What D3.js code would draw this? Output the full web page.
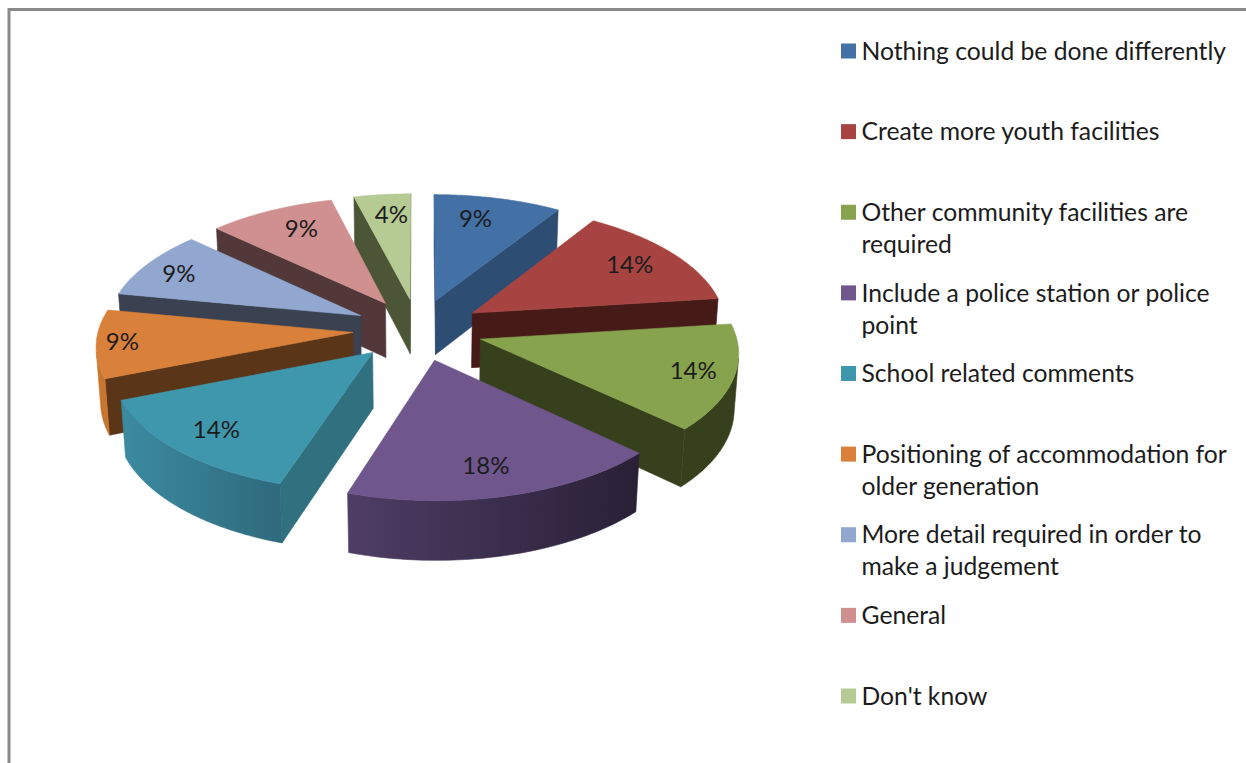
<!DOCTYPE html>
<html>
<head>
<meta charset="utf-8">
<script src="https://cdnjs.cloudflare.com/ajax/libs/d3/7.8.5/d3.min.js"></script>
<style>
  html, body { margin: 0; padding: 0; background: #fff; overflow: hidden; }
  text { font-family: Lato, "Open Sans", sans-serif; fill: #1c1c1c; }
</style>
</head>
<body>
<svg id="chart" width="1246" height="763"></svg>
<script>
// Survey responses, in percent, clockwise from twelve o'clock
const categories = [
  "Nothing could be done differently",
  "Create more youth facilities",
  "Other community facilities are required",
  "Include a police station or police point",
  "School related comments",
  "Positioning of accommodation for older generation",
  "More detail required in order to make a judgement",
  "General",
  "Don't know"
];
const values = [9, 14, 14, 18, 14, 9, 9, 9, 4];

const legendLines = [
  ["Nothing could be done differently"],
  ["Create more youth facilities"],
  ["Other community facilities are", "required"],
  ["Include a police station or police", "point"],
  ["School related comments"],
  ["Positioning of accommodation for", "older generation"],
  ["More detail required in order to", "make a judgement"],
  ["General"],
  ["Don't know"]
];

const topColors  = ["#4371a6", "#a74442", "#87a34d", "#6f568c", "#3f97ae", "#d9813a", "#91a7cf", "#cf908f", "#b6cb93"];
const wallColors = ["#2e4d73", "#461a17", "#37401d", "#3b2d4f", "#30707f", "#5a3517", "#3a4252", "#53383a", "#4d5537"];
const rimLeft    = ["#2e4d73", "#461a17", "#37401d", "#4f3d66", "#3b8ba1", "#c8752f", "#3a4252", "#53383a", "#4d5537"];
const rimRight   = ["#2e4d73", "#461a17", "#37401d", "#292036", "#2f697c", "#c8752f", "#3a4252", "#53383a", "#4d5537"];

const svg = d3.select("#chart");

// Frame of the chart area; its right and bottom sides run past the page
svg.append("path")
  .attr("d", "M9,763V9.5H1246")
  .attr("fill", "none")
  .attr("stroke", "#8a8a8a")
  .attr("stroke-width", 3);

// Perspective view of the ground plane, pie radius = 1 world unit
const view = { cx: 418, cy: 329.5, ax: 254.5, ay: 121, persp: 0.0944, explode: 0.256, depth: 55, sink: 0.014 };

function project(X, Y, bottom) {
  const w = 1 + view.persp * Y;
  if (!bottom) return [view.cx + view.ax * X / w, view.cy - view.ay * Y / w];
  // The lower face is a little further from the eye and its drop grows towards the front
  const wb = w + view.sink;
  return [view.cx + view.ax * X / wb, view.cy - view.ay * Y / wb + view.depth / w];
}

const pie = d3.pie().sort(null).value(d => d);
const arcs = pie(values).map((a, i) => {
  const mid = (a.startAngle + a.endAngle) / 2;
  return {
    index: i,
    a0: a.startAngle,
    a1: a.endAngle,
    mid,
    ox: view.explode * Math.sin(mid),
    oy: view.explode * Math.cos(mid)
  };
});

const polygon = d3.line();
const defs = svg.append("defs");

// Back slices first so that nearer ones overlap them
const ordered = arcs.slice().sort((p, q) => Math.cos(q.mid) - Math.cos(p.mid));

ordered.forEach(s => {
  const g = svg.append("g");
  const at = (t, r, bottom) => project(s.ox + r * Math.sin(t), s.oy + r * Math.cos(t), bottom);

  const steps = d3.range(0, 61).map(k => s.a0 + (s.a1 - s.a0) * k / 60);
  const topEdge = steps.map(t => at(t, 1, false));
  const lowEdge = steps.map(t => at(t, 1, true));
  const apexTop = at(0, 0, false);
  const apexLow = at(0, 0, true);

  // Radial walls, kept only where they turn towards the viewer
  const wallStart = [apexTop, topEdge[0], lowEdge[0], apexLow];
  const wallEnd = [apexTop, topEdge[60], lowEdge[60], apexLow];
  const fillWall = pts => g.append("path")
    .attr("d", polygon(pts) + "Z")
    .attr("fill", wallColors[s.index])
    .attr("stroke", wallColors[s.index])
    .attr("stroke-width", 0.6);
  if (d3.polygonArea(wallStart) > 0) fillWall(wallStart);
  if (d3.polygonArea(wallEnd) < 0) fillWall(wallEnd);

  // Outer rim: the run of facets that face the viewer
  const facing = d3.range(0, 60).filter(k =>
    d3.polygonArea([topEdge[k], topEdge[k + 1], lowEdge[k + 1], lowEdge[k]]) > 0);
  if (facing.length) {
    const first = d3.min(facing), last = d3.max(facing) + 1;
    const upper = topEdge.slice(first, last + 1);
    const lower = lowEdge.slice(first, last + 1).reverse();
    const ring = upper.concat(lower);
    const id = "rim" + s.index;
    const grad = defs.append("linearGradient")
      .attr("id", id)
      .attr("gradientUnits", "userSpaceOnUse")
      .attr("x1", d3.min(ring, p => p[0])).attr("y1", 0)
      .attr("x2", d3.max(ring, p => p[0])).attr("y2", 0);
    grad.append("stop").attr("offset", 0).attr("stop-color", rimLeft[s.index]);
    grad.append("stop").attr("offset", 1).attr("stop-color", rimRight[s.index]);
    g.append("path")
      .attr("d", polygon(ring) + "Z")
      .attr("fill", `url(#${id})`)
      .attr("stroke", `url(#${id})`)
      .attr("stroke-width", 0.6);
  }

  // Top face
  g.append("path")
    .attr("d", polygon([apexTop].concat(topEdge)) + "Z")
    .attr("fill", topColors[s.index])
    .attr("stroke", topColors[s.index])
    .attr("stroke-width", 0.6);
});

// Percentage labels follow a ring that widens towards the sides and front,
// a touch further out on the left-hand half
const labelSize = 24;
arcs.forEach(s => {
  const sin = Math.sin(s.mid), cos = Math.cos(s.mid);
  const rx = 236 - 35 * cos + 47 * sin * sin + (sin < 0 ? 11 : 0);
  const ry = 128 - 12.5 * cos;
  svg.append("text")
    .attr("x", view.cx + rx * sin)
    .attr("y", view.cy - ry * cos)
    .attr("dy", "0.35em")
    .attr("text-anchor", "middle")
    .attr("font-size", labelSize)
    .text(values[s.index] + "%");
});

// Legend
const legendY = d3.scaleLinear().domain([0, categories.length - 1]).range([51, 696]);
const legend = svg.selectAll("g.entry")
  .data(categories)
  .join("g")
  .attr("class", "entry")
  .attr("transform", (d, i) => `translate(841,${legendY(i)})`);

legend.append("rect")
  .attr("x", 0).attr("y", -7.5)
  .attr("width", 15).attr("height", 15)
  .attr("fill", (d, i) => topColors[i]);

legend.each(function (d, i) {
  d3.select(this).selectAll("text")
    .data(legendLines[i])
    .join("text")
    .attr("x", 20.5)
    .attr("y", (line, k) => 8.7 + k * 32)
    .attr("font-size", 24.7)
    .text(line => line);
});
</script>
</body>
</html>
